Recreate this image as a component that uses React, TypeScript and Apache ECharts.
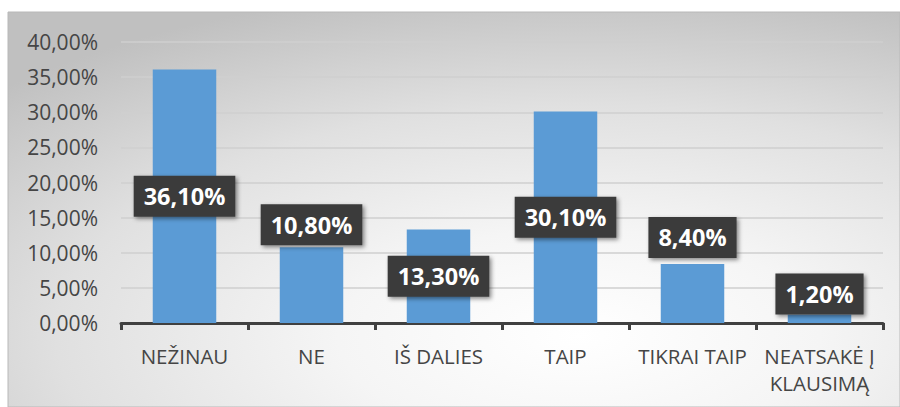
import React, { useEffect, useRef } from "react";
import * as echarts from "echarts";

const categories = ["NEŽINAU", "NE", "IŠ DALIES", "TAIP", "TIKRAI TAIP", "NEATSAKĖ Į\nKLAUSIMĄ"];
const values = [36.1, 10.8, 13.3, 30.1, 8.4, 1.2];
const labelTexts = ["36,10%", "10,80%", "13,30%", "30,10%", "8,40%", "1,20%"];
const labelPlacement = ["inside", "top", "inside", "inside", "top", "top"];
const labelDistance = [0, 2, 0, 0, 6, 0];

const fmtPct = (v: number) => v.toFixed(2).replace(".", ",") + "%";

export default function App() {
  const ref = useRef<HTMLDivElement>(null);
  useEffect(() => {
    if (!ref.current) return;
    const chart = echarts.init(ref.current, undefined, { renderer: "svg" });
    const font = "'Open Sans', 'DejaVu Sans', sans-serif";
    chart.setOption({
      animation: false,
      graphic: [
        {
          type: "rect",
          z: -10,
          silent: true,
          shape: { x: 8, y: 12, width: 892, height: 395 },
          style: {
            fill: new echarts.graphic.RadialGradient(0.64, 0.82, 0.9, [
              { offset: 0, color: "#ffffff" },
              { offset: 0.3, color: "#f5f5f5" },
              { offset: 0.65, color: "#e0e0e0" },
              { offset: 1, color: "#c0c0c0" },
            ]),
            stroke: "#b8b8b8",
            lineWidth: 1,
          },
        },
      ],
      grid: { left: 121, right: 17, top: 42, bottom: 84 },
      xAxis: {
        type: "category",
        data: categories,
        axisLine: { lineStyle: { color: "#404040", width: 3 } },
        axisTick: { show: true, length: 7, lineStyle: { color: "#404040", width: 3 } },
        axisLabel: {
          interval: 0,
          color: "#454545",
          fontFamily: font,
          fontSize: 20.5,
          lineHeight: 27,
          margin: 19,
        },
      },
      yAxis: {
        type: "value",
        min: 0,
        max: 40,
        interval: 5,
        axisLine: { show: false },
        axisTick: { show: false },
        splitLine: { lineStyle: { color: "#cfcfcf", width: 1.5 } },
        axisLabel: {
          color: "#454545",
          fontFamily: font,
          fontSize: 21,
          margin: 23,
          formatter: (v: number) => fmtPct(v),
        },
      },
      series: [
        {
          type: "bar",
          barWidth: "50%",
          itemStyle: { color: "#5B9BD5" },
          data: values.map((v, i) => ({
            value: v,
            label: {
              show: true,
              position: labelPlacement[i],
              distance: labelDistance[i],
              formatter: () => labelTexts[i],
              color: "#ffffff",
              fontFamily: font,
              fontWeight: "bold",
              fontSize: 23.5,
              lineHeight: 29,
              backgroundColor: "#3b3b3b",
              padding: [6, 10, 6, 10],
              shadowColor: "rgba(0,0,0,0.45)",
              shadowBlur: 4,
              shadowOffsetX: 2,
              shadowOffsetY: 2,
            },
          })),
        },
      ],
    });
    return () => chart.dispose();
  }, []);
  return (
    <div
      ref={ref}
      style={{ position: "absolute", left: 0, top: 0, width: 900, height: 407 }}
    />
  );
}
